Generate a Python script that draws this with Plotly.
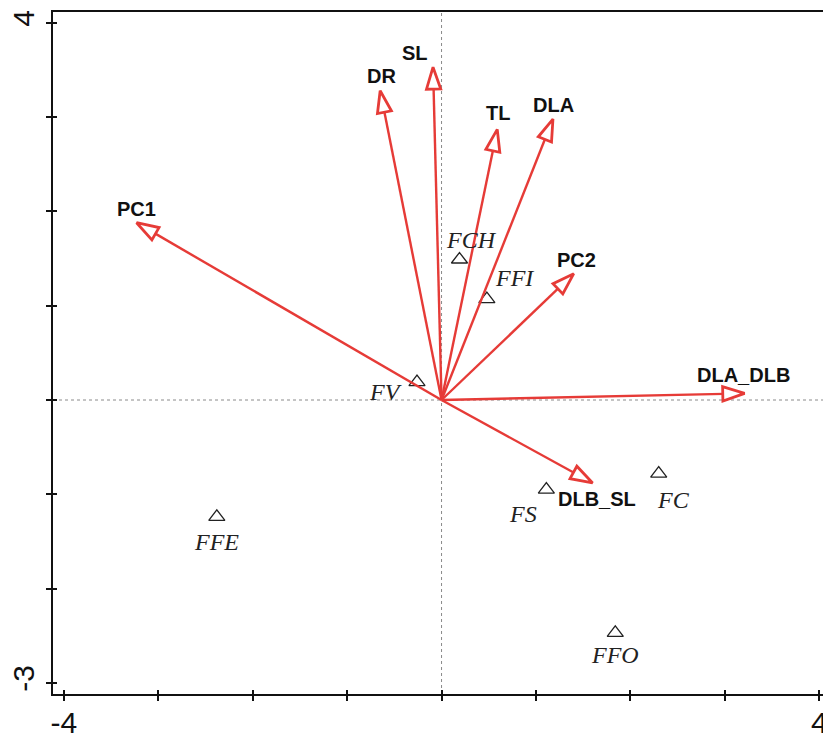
import plotly.graph_objects as go

# ---- data ----
variables = ["PC1", "DR", "SL", "TL", "DLA", "PC2", "DLA_DLB", "DLB_SL"]
var_x = [-3.23, -0.65, -0.09, 0.59, 1.18, 1.40, 3.21, 1.60]
var_y = [1.88, 3.28, 3.53, 2.87, 2.98, 1.34, 0.07, -0.88]

sites = ["FCH", "FFI", "FV", "FS", "FC", "FFE", "FFO"]
site_x = [0.19, 0.48, -0.26, 1.11, 2.30, -2.38, 1.84]
site_y = [1.49, 1.07, 0.19, -0.95, -0.78, -1.24, -2.47]

x_ticks = [-4, -3, -2, -1, 0, 1, 2, 3, 4]
x_ticktext = ["-4", "", "", "", "", "", "", "", "4"]
y_ticks = [-3, -2, -1, 0, 1, 2, 3, 4]
y_ticktext = ["-3", "", "", "", "", "", "", "4"]

# ---- styling (label offsets in pixels) ----
var_label_shift = {
    "PC1": (0, 14), "DR": (1, 15), "SL": (-18, 14), "TL": (1, 16),
    "DLA": (1, 14), "PC2": (3, 14), "DLA_DLB": (-1, 18), "DLB_SL": (4, -16),
}
site_label_shift = {
    "FCH": (12, 20), "FFI": (28, 21), "FV": (-31, -10), "FS": (-23, -24),
    "FC": (15, -26), "FFE": (0, -25), "FFO": (0, -22),
}
RED = "#e63b37"
XR = [-4.115, 4.04]
YR = [-3.118, 4.115]

fig = go.Figure()

# zero reference lines
fig.add_shape(type="line", x0=0, x1=0, y0=0, y1=1, xref="x", yref="paper",
              line=dict(color="#8a8a8a", width=1, dash="dot"), layer="below")
fig.add_shape(type="line", x0=0, x1=1, y0=0, y1=0, xref="paper", yref="y",
              line=dict(color="#8a8a8a", width=1, dash="dot"), layer="below")

# site points
fig.add_trace(go.Scatter(
    x=site_x, y=site_y, mode="markers",
    marker=dict(symbol="triangle-up-open", size=14, color="#222",
                line=dict(width=1.3, color="#222")),
    hoverinfo="text", text=sites, showlegend=False))

# arrows
for name, vx, vy in zip(variables, var_x, var_y):
    fig.add_trace(go.Scatter(
        x=[0, vx], y=[0, vy], mode="lines+markers",
        line=dict(color=RED, width=2.4),
        marker=dict(symbol="arrow", size=[0, 23], angleref="previous",
                    color="white", opacity=1, line=dict(color=RED, width=2.8)),
        hoverinfo="skip", showlegend=False))

annotations = []
for name, vx, vy in zip(variables, var_x, var_y):
    dx, dy = var_label_shift[name]
    annotations.append(dict(
        x=vx, y=vy, text=name, showarrow=False, xshift=dx, yshift=dy,
        xanchor="center", yanchor="middle",
        font=dict(family="Liberation Sans, Arial", size=20, color="#111", weight="bold")))
for name, sx, sy in zip(sites, site_x, site_y):
    dx, dy = site_label_shift[name]
    annotations.append(dict(
        x=sx, y=sy, text=name, showarrow=False, xshift=dx, yshift=dy,
        xanchor="center", yanchor="middle",
        font=dict(family="Liberation Serif, Times New Roman", size=24,
                  color="#222", style="italic")))

# dummy trace for the inner-tick overlay axes
fig.add_trace(go.Scatter(x=[None], y=[None], xaxis="x2", yaxis="y2",
                         showlegend=False, hoverinfo="skip"))

tickfont = dict(family="Liberation Sans, Arial", size=30, color="#111")
fig.update_layout(
    width=823, height=738,
    margin=dict(l=53, r=0, t=12, b=44),
    paper_bgcolor="white", plot_bgcolor="white",
    showlegend=False,
    annotations=annotations,
    xaxis=dict(range=XR, tickvals=x_ticks, ticktext=x_ticktext, ticks="outside",
               ticklen=5, tickwidth=1.5, tickcolor="#111", showline=True,
               linewidth=2, linecolor="#111", mirror=True, showgrid=False,
               zeroline=False, tickfont=tickfont, automargin=False,
               ticklabelstandoff=-4, ticklabeloverflow="allow"),
    yaxis=dict(range=YR, tickvals=y_ticks, ticktext=y_ticktext, ticks="outside",
               ticklen=5, tickwidth=1.5, tickcolor="#111", showline=True,
               linewidth=2, linecolor="#111", mirror=False, showgrid=False,
               zeroline=False, tickfont=tickfont, tickangle=-90, automargin=False),
    xaxis2=dict(range=XR, overlaying="x", anchor="y2", side="bottom",
                tickvals=x_ticks, ticks="inside", ticklen=4, tickwidth=1.5,
                tickcolor="#111", showticklabels=False, showgrid=False,
                zeroline=False, showline=False),
    yaxis2=dict(range=YR, overlaying="y", anchor="x2", side="left",
                tickvals=y_ticks, ticks="inside", ticklen=4, tickwidth=1.5,
                tickcolor="#111", showticklabels=False, showgrid=False,
                zeroline=False, showline=False),
)

fig.write_html(
    "out.html",
    config={"displayModeBar": False},
    post_script="document.body.style.margin='0';document.body.style.overflow='hidden';",
)
